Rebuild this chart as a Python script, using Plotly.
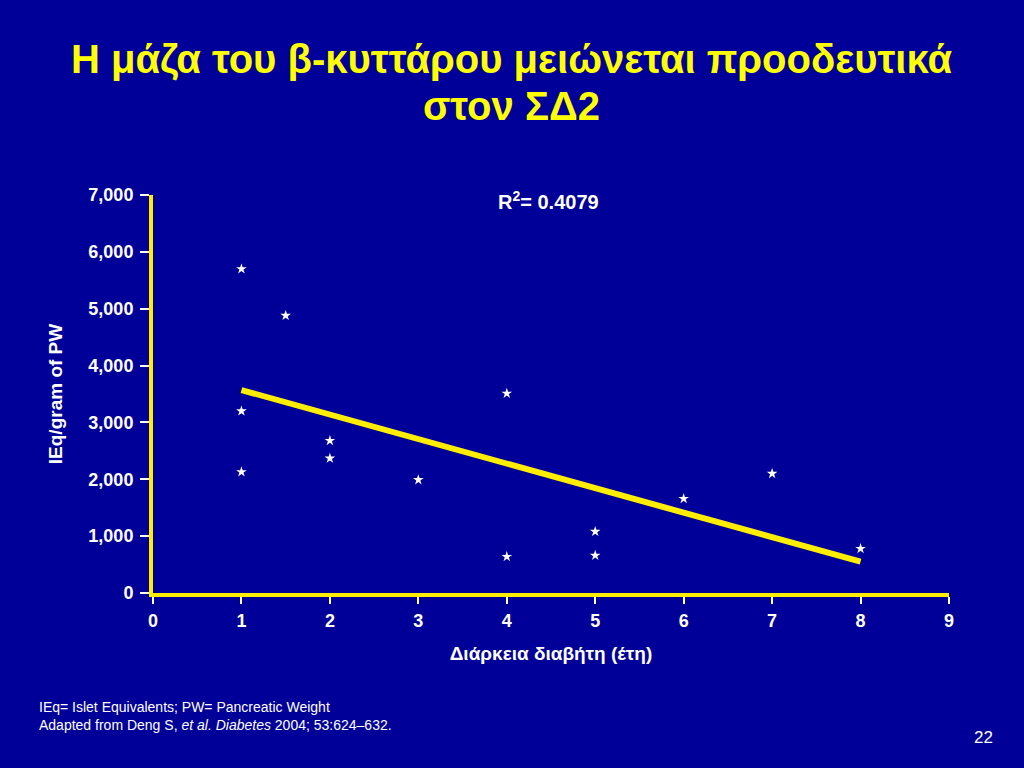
import plotly.graph_objects as go

# Data
duration_years = [1, 1.5, 1, 1, 2, 2, 3, 4, 4, 5, 5, 6, 7, 8]
ieq_per_gram = [5700, 4880, 3200, 2130, 2680, 2370, 1990, 3510, 640, 1080, 660, 1660, 2100, 780]
fit_x = [1, 8]
fit_y = [3570, 550]
x_ticks = [0, 1, 2, 3, 4, 5, 6, 7, 8, 9]
x_tick_labels = ["0", "1", "2", "3", "4", "5", "6", "7", "8", "9"]
y_ticks = [0, 1000, 2000, 3000, 4000, 5000, 6000, 7000]
y_tick_labels = ["0", "1,000", "2,000", "3,000", "4,000", "5,000", "6,000", "7,000"]

BG = "#000099"
YELLOW = "#FFEE00"
FONT = "Liberation Sans, Arial, sans-serif"

fig = go.Figure()
fig.add_trace(go.Scatter(
    x=fit_x, y=fit_y, mode="lines",
    line=dict(color=YELLOW, width=6), showlegend=False, hoverinfo="skip"))
fig.add_trace(go.Scatter(
    x=duration_years, y=ieq_per_gram, mode="markers",
    marker=dict(symbol="star", size=8, color="white", line=dict(width=0)),
    showlegend=False))

fig.update_layout(
    width=1024, height=768,
    paper_bgcolor=BG, plot_bgcolor=BG,
    margin=dict(l=153, r=75, t=195, b=175),
    font=dict(family=FONT, color="white"),
    xaxis=dict(
        range=[0, 9], tickvals=x_ticks,
        ticktext=["<b>%s</b>" % t for t in x_tick_labels],
        showgrid=False, zeroline=False,
        showline=True, linecolor=YELLOW, linewidth=4,
        ticks="outside", tickcolor="white", ticklen=7, tickwidth=1.5,
        ticklabelstandoff=1,
        tickfont=dict(family=FONT, size=18, color="white"),
        title=dict(text="<b>Διάρκεια διαβήτη (έτη)</b>", standoff=18,
                   font=dict(family=FONT, size=19, color="white"))),
    yaxis=dict(
        range=[0, 7000], tickvals=y_ticks,
        ticktext=["<b>%s</b>" % t for t in y_tick_labels],
        showgrid=False, zeroline=False,
        showline=True, linecolor=YELLOW, linewidth=4,
        ticks="outside", tickcolor="white", ticklen=9, tickwidth=1.5,
        ticklabelstandoff=3,
        tickfont=dict(family=FONT, size=18, color="white"),
        title=dict(text="<b>IEq/gram of PW</b>", standoff=22,
                   font=dict(family=FONT, size=19, color="white"))),
)

# Title as two lines placed separately, centred on the page
fig.add_annotation(
    x=0.451, xref="paper", y=1.342, yref="paper", xanchor="center", yanchor="middle",
    showarrow=False, text="<b>Η μάζα του β-κυττάρου μειώνεται προοδευτικά</b>",
    font=dict(family=FONT, size=40, color="#FFFF00"))
fig.add_annotation(
    x=0.451, xref="paper", y=1.223, yref="paper", xanchor="center", yanchor="middle",
    showarrow=False, text="<b>στον ΣΔ2</b>",
    font=dict(family=FONT, size=40, color="#FFFF00"))

fig.add_annotation(
    x=0.497, xref="paper", y=0.987, yref="paper", xanchor="center", yanchor="middle",
    text="<b>R<sup>2</sup>= 0.4079</b>", showarrow=False,
    font=dict(family=FONT, size=20, color="white"))
fig.add_annotation(
    x=-0.1457, xref="paper", y=-0.262, yref="paper", xanchor="left", yanchor="top",
    align="left", showarrow=False,
    text="IEq= Islet Equivalents; PW= Pancreatic Weight<br>Adapted from Deng S, <i>et al. Diabetes</i> 2004; 53:624–632.",
    font=dict(family=FONT, size=14, color="white"))
fig.add_annotation(
    x=1.043, xref="paper", y=-0.362, yref="paper", xanchor="center", yanchor="middle",
    showarrow=False, text="22",
    font=dict(family=FONT, size=17, color="white"))

fig.write_html("out.html", config={"displayModeBar": False},
               post_script="document.body.style.margin='0';document.body.style.overflow='hidden';")
